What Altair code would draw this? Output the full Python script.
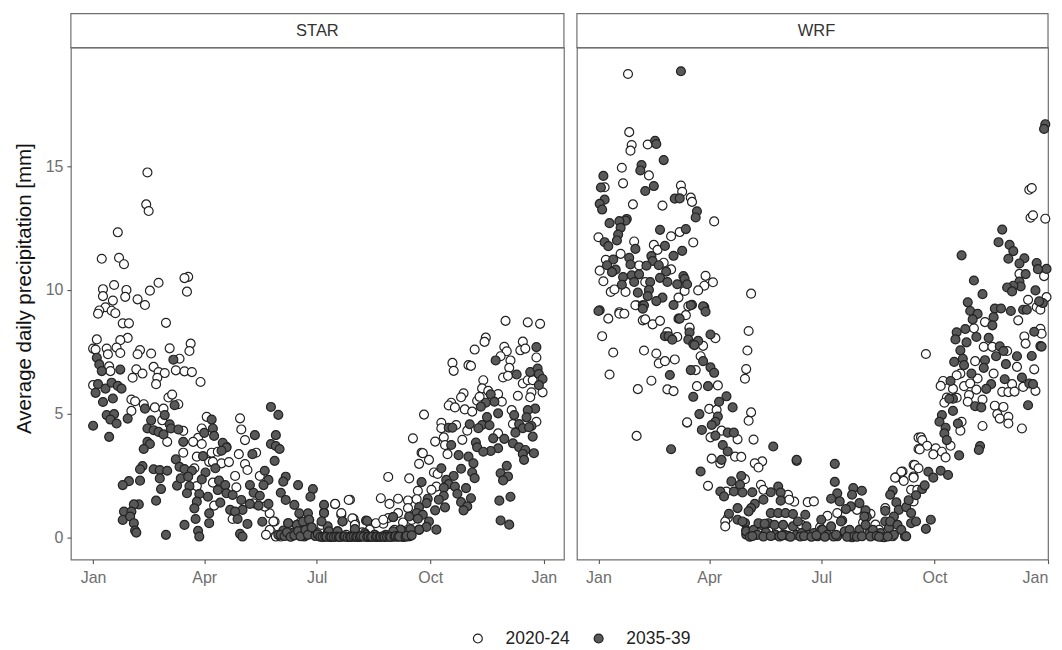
import altair as alt
import pandas as pd

period_labels = ["2020-24", "2035-39"]
panel_labels = ["STAR", "WRF"]
month_ticks = [0, 90, 181, 273, 365]
y_ticks = [0, 5, 10, 15]

star_2020 = [(44,14.75),(43,13.46),(45,13.19),(20,12.33),(7,11.26),(21,11.3),(25,11.04),(77,10.53),(74,10.48),(53,10.29),(17,10.2),(8,10.03),(27,10),(46,9.97),(76,9.93),(8,9.75),(26,9.72),(16,9.57),(36,9.62),(42,9.39),(10,9.3),(5,9.17),(4,9.04),(15,9.16),(18,9.06),(24,8.65),(29,8.65),(59,8.67),(3,8),(28,8.06),(22,7.97),(79,7.83),(0,7.63),(2,7.59),(11,7.63),(19,7.67),(62,7.64),(38,7.57),(78,7.53),(12,7.4),(22,7.45),(36,7.4),(47,7.43),(70,7.22),
(13,6.91),(14,6.72),(35,6.79),(49,6.89),(40,6.62),(32,6.45),(53,6.68),(58,6.64),(52,6.45),(51,6.19),(67,6.75),(74,6.71),(80,6.68),(87,6.28),(0,6.15),(31,5.57),(34,5.5),(41,5.38),(50,5.25),(31,5.11),(57,5.2),(61,5.65),(64,5.77),(69,5.38),(56,4.73),(92,4.87),(73,4.3),(60,3.86),(88,4.4),(119,4.81),(120,4.36),(123,3.93),(85,4.02),(81,3.86),(88,3.77),(96,3.42),(101,3.46),(108,3.66),(118,3.36),(132,3.42),(73,3.42),(84,3.26),(94,3.05),(104,2.99),(110,3.04),(97,3.05),(123,2.96),(125,2.72),(115,2.48),(135,2.48),(82,2.79),(97,2.21),(116,2.02),(84,2.07),(130,1.37),(98,1.28),(113,.74),(143,.97),(147,.64),(144,.23),(148,.03),(152,.03),(159,.1),(139,1.24),(146,.64),(143,.3),(140,.1),
(334,8.75),(352,8.69),(362,8.63),(318,8.07),(317,7.9),(309,7.59),(333,7.7),(335,7.52),(348,7.91),(346,7.56),(350,7.63),(330,7.32),(359,7.27),(338,7.15),(291,7.05),(292,6.73),(304,6.96),(306,6.93),(337,6.85),(332,6.46),(336,6.53),(348,6.22),(352,6.35),(356,6.35),(316,6.35),(315,6.02),(320,5.92),(328,5.79),(355,5.86),(354,5.66),(364,5.86),(344,5.72),(300,5.82),(298,5.66),(290,5.44),(288,5.33),(293,5.25),(301,5.17),(307,5.08),(311,5.52),(313,5.68),(331,5.48),(339,5.14),(268,4.96),(282,4.63),(282,4.41),(294,4.54),(303,4.31),(359,4.67),(340,4.58),(328,4.2),(259,4),(284,4.04),(299,3.94),(277,3.87),(285,3.73),(287,3.36),(266,3.42),(267,3.4),(272,3.13),(264,2.97),(276,2.62),(279,2.56),(239,2.44),(256,2.38),(278,2.05),(263,1.88),(274,1.92),(233,1.58),(240,1.35),(247,1.56),(255,1.49),(262,1.54),(196,1.34),(208,1.52),(201,.91),(211,.75),(212,.58),(247,.98),(239,.78),(235,.55),(255,1.18),(224,.31),(196,1.35),(207,1.51),(210,.77),(201,.98),(212,.5),(229,.57),(235,.71),(160,.4),(168,.6),(175,.3),(185,.5),(190,.2),(205,.1),(218,.2),(228,.1),(244,.3),(251,.6),(258,.7)]

star_2035 = [(3,7.26),(5,6.99),(7,6.72),(22,6.78),(65,7.18),(4,6.19),(2,5.84),(10,6.01),(15,6.25),(20,6.12),(23,6.01),(8,5.47),(16,5.61),(11,4.94),(17,4.98),(14,4.76),(19,4.6),(0,4.51),(13,4.06),(28,4.8),(42,5.2),(58,4.94),(66,5.34),(47,4.73),(44,4.4),(49,4.33),(53,4.26),(57,4.16),(62,4.57),(63,4.4),(69,4.36),(96,4.76),(97,4.4),(90,4.22),(98,4.1),(73,3.86),(44,3.86),(46,3.77),(41,3.57),(105,3.82),(108,3.63),(104,3.5),(131,4.13),(148,4.13),(144,5.27),(150,4.95),(144,3.77),(148,3.69),(151,3.57),(129,3.36),(89,3.28),(147,3.09),(67,3.15),
(40,2.88),(38,2.75),(49,2.75),(54,2.72),(60,2.69),(70,2.85),(74,2.76),(80,2.69),(91,2.62),(99,2.79),(139,2.69),(29,2.27),(24,2.11),(38,2.29),(54,2.38),(55,1.95),(68,2.09),(71,2.38),(77,2.45),(78,2.07),(88,2.34),(102,2.29),(107,2.11),(76,1.78),(86,1.75),(93,1.64),(84,1.44),(101,1.91),(108,1.78),(103,1.4),(113,1.71),(120,1.51),(127,2.11),(130,1.8),(135,1.68),(142,2.32),(138,2.11),(156,2.45),(154,2.25),(152,1.8),(166,2.11),(178,1.95),(176,1.64),(156,1.51),(163,1.31),(142,1.35),(127,1.35),(134,1.28),(121,1.11),(111,1.11),(115,1.04),(51,1.48),(37,1.33),(33,1.33),(25,1.04),(31,1.04),(24,.7),(30,.84),(33,.57),(34,.27),(35,.19),(59,.1),(74,.5),(83,.74),(82,1.17),(94,.97),(94,.57),(85,.26),(86,.03),(119,.14),(121,.03),(117,.74),(125,.54),(137,.63),(167,.97),(174,.97),(175,.7),(158,.57),(165,.5),(170,.63),(154,.27),(162,.19),(171,.03),(179,.23),(187,1),(175,.71),(202,.64),(221,.68),(243,.81),(212,.3),(198,.24),(190,.44),(171,.1),(162,.17),(158,.57),(150,.1),(220,.17),(228,.1),(237,.1),(251,.24),(256,.04),(264,.3),
(326,7.15),(359,7.69),(343,6.58),(354,6.68),(360,6.82),(361,6.6),(364,6.4),(361,6.15),(322,5.78),(325,5.48),(318,5.44),(314,5.28),(328,5.01),(358,5.2),(352,5.14),(341,4.94),(351,4.85),(319,4.86),(345,4.58),(355,4.5),(315,4.54),(321,4.53),(305,4.57),(288,4.43),(291,4.43),(312,4.41),(348,4.41),(353,4.45),(342,4.23),(356,4.07),(324,4),(333,3.98),(340,3.8),(310,3.83),(290,3.73),(311,3.64),(345,3.64),(328,3.6),(322,3.49),(316,3.46),(350,3.53),(357,3.4),(348,3.37),(296,3.32),(304,3.26),(349,3.13),(308,2.99),(282,2.79),(298,2.77),(307,2.62),(335,2.89),(330,2.59),(336,2.46),(332,2.3),(309,2.39),(292,2.48),(286,2.32),(266,2.23),(288,2.15),(293,2.05),(302,1.99),(284,2),(295,1.76),(338,1.64),(284,1.68),(306,1.58),(329,1.48),(298,1.42),(271,1.56),(280,1.52),(303,1.25),(285,1.21),(270,1.38),(300,1.09),(277,1.09),(264,1.22),(262,.98),(267,.91),(256,.84),(263,.75),(330,.68),(337,.51),(272,.64),(243,.82),(222,.66),(202,.64),(278,.31),(270,.42),(264,.31),(257,.33),(249,.31),(243,.24),(256,.04),(251,.01),(187,1.31),(187,.98),(185,.64),(191,.24),(198,.24),(212,.33),(221,.1),
(152,.1),(155,.05),(157,.2),(160,.02),(163,.08),(166,.25),(168,.04),(172,.3),(174,.1),(177,.4),(180,.05),(182,.12),(184,.02),(186,.01),(188,.03),(189,.02),(192,.01),(193,.02),(195,.01),(197,.03),(199,.02),(200,.01),(203,.02),(204,.04),(206,.01),(208,.02),(209,.01),(211,.03),(213,.01),(214,.02),(216,.01),(217,.04),(219,.02),(222,.01),(223,.03),(225,.01),(226,.02),(229,.01),(230,.03),(232,.01),(233,.02),(235,.04),(236,.01),(238,.02),(240,.03),(241,.01),(244,.02),(245,.05),(247,.02),(248,.03),(253,.02),(254,.06),(258,.08)]

wrf_2020 = [(24,18.73),(25,16.38),(27,15.86),(26,15.63),(40,15.88),(19,14.94),(20,14.31),(41,14.63),(5,14.15),(28,13.46),(52,13.41),(67,14.22),(68,13.97),(75,13.73),(76,13.56),(94,12.77),(0,12.13),(29,11.96),(45,11.82),(59,12.17),(66,12.34),(77,11.92),(48,11.62),(18,11.46),(6,11.22),(33,10.99),(53,11.1),(59,10.83),(1,10.78),(4,10.35),(10,9.92),(13,10.02),(22,9.92),(38,10.32),(87,10.57),(86,10.17),(93,10.31),(81,9.98),(70,9.96),(65,9.69),(124,9.85),(73,9.34),(17,9.1),(31,9.38),
(8,8.84),(17,9.04),(21,9.04),(3,8.13),(12,7.47),(37,7.55),(47,7.43),(9,6.58),(49,7.03),(54,7.12),(62,7.19),(43,6.33),(32,5.99),(56,5.98),(61,5.91),(72,4.63),(31,4.1),(36,8.77),(38,8.81),(44,8.61),(50,8.75),(30,9.38),(71,8.98),(56,8.3),(64,8.1),(74,8.44),
(122,8.34),(121,7.55),(120,6.8),(119,6.41),(95,8.05),(85,7.74),(74,8.48),(83,7.32),(79,6.76),(80,6.11),(97,6.14),(124,5.05),(122,4.71),(90,5.19),(96,5.15),(72,4.65),(100,4.31),(91,4.04),(113,3.96),(126,3.95),(92,3.18),(111,3.26),(116,3.25),(99,2.99),(133,3.07),(127,2.99),(130,2.82),(161,3.09),(89,2.08),(104,1.85),(119,2.35),(132,2.12),(134,1.92),(154,1.72),(159,1.44),(155,1.52),(170,1.42),(175,1.45),(105,.78),(103,.64),(103,.44),(194,.98),(186,.87),(210,1.11),(221,.95),(233,1.18),(225,.51),(239,.04),(247,2.66),(242,2.42),(248,2.28),(256,2.93),(256,2.46),(254,1.92),(259,1.92),(260,4.03),(260,3.57),(256,1.45),
(350,14.05),(352,14.12),(351,12.92),(353,13.02),(363,12.88),(362,10.56),(342,10.65),(364,9.71),(349,9.6),(356,9.31),(359,9.2),(341,8.77),(314,8.7),(305,8.45),(359,8.43),(360,8.23),(346,8.12),(347,7.83),(266,7.41),(313,7.7),(320,7.7),(332,7.53),(306,7.12),(340,6.89),(354,6.79),(321,6.62),(294,6.62),(308,6.42),(280,6.32),(278,6.12),(291,6.55),(297,6.11),(302,6.22),(307,5.97),(288,6),(336,6.19),(345,6.08),(355,5.92),(328,5.88),(333,5.87),(338,5.89),(283,5.65),(291,5.64),(301,5.75),(300,5.48),(312,5.57),(281,5.44),(322,5.32),(329,5.27),(324,4.98),(326,4.8),(333,4.87),(333,4.6),(295,4.67),(294,4.31),(312,4.5),(344,4.4),(262,4.04),(263,3.93),(267,3.7),(261,3.55),(274,3.6),(272,3.35),(279,3.46),(282,3.23),(286,3.7),(257,2.92),(260,2.79),(246,2.65),(241,2.41),(256,2.41),(145,.3),(165,.5),(180,.4),(200,.2),(215,.6),(228,.3)]

wrf_2035 = [(67,18.84),(46,16.03),(47,15.9),(53,15.25),(35,15.05),(34,14.83),(4,14.61),(2,14.14),(45,14.2),(38,14),(62,13.69),(66,13.7),(5,13.65),(1,13.48),(3,13.25),(80,13.18),(79,12.93),(23,12.87),(22,12.8),(17,12.78),(9,12.7),(18,12.51),(50,12.43),(71,12.46),(16,12.24),(15,12),(5,11.93),(8,11.77),(54,11.78),(30,11.66),(68,11.58),(61,11.38),(43,11.37),(12,11.23),(25,11.3),(44,11.17),(7,11),(26,11.03),(39,10.98),(49,11),(14,10.82),(11,10.72),(55,10.74),(20,10.52),(27,10.59),(33,10.63),(69,10.56),(70,10.45),(29,10.32),(50,10.49),(56,10.32),(42,10.32),(64,10.23),(72,10.23),(19,10.21),(41,10),(32,9.89),(52,9.69),(47,9.55),(40,9.75),(36,9.38),(61,9.39),(76,9.4),(86,9.31),(1,9.18),
(0,9.15),(37,9.38),(36,9.24),(65,8.84),(75,9.38),(54,8.13),(57,8.13),(60,7.99),(74,8.28),(73,7.99),(77,7.81),(58,6.56),(75,6.76),(77,5.68),(59,3.56),
(85,9.34),(87,9.12),(66,8.84),(91,8.2),(81,7.94),(78,7.77),(85,7.12),(91,6.87),(94,6.65),(89,6.11),(104,5.7),(98,5.48),(109,5.25),(82,4.98),(97,4.88),(95,4.67),(92,4.54),(84,4.34),(105,4.23),(110,4.23),(95,4.11),(101,3.73),(142,3.67),(105,3.47),(100,3.13),(161,3.13),(192,2.97),(83,2.66),(192,2.24),(116,2.48),(108,2.26),(115,2.12),(110,1.85),(117,1.81),(99,1.85),(102,1.65),(125,1.82),(140,1.82),(146,2.05),(148,1.81),(207,1.99),(214,1.88),(206,1.72),(194,1.78),(189,1.56),(196,1.45),(148,1.48),(134,1.52),(127,1.35),(124,1.18),(122,1.05),(212,1.38),(205,1.25),(201,1.14),(217,1.09),(218,.82),(113,1.18),(106,.95),(113,.71),(119,.58),(140,.98),(146,.98),(152,.98),(158,.94),(168,.91),(181,.71),(198,.68),(233,1.07),(239,1.89),(237,1.72),(242,1.41),(244,1.11),(250,1.22),(254,.98),(240,.84),(233,.64),(236,.38),(231,.01),(249,.04),(120,.28),(120,.11),(128,.11),
(117,.64),(120,.24),(126,.3),(129,.1),(132,.5),(136,.2),(138,.57),(143,.5),(144,.1),(150,.5),(151,.1),(154,.06),(158,.44),(161,.1),(162,.64),(165,.17),(169,.44),(171,.1),(175,.17),(178,.04),(181,.3),(182,.3),(186,.1),(189,.44),(194,.04),(197,.64),(200,.24),(204,.3),(206,0),(212,.3),(216,.84),(217,.5),(220,.17),(223,.3),(229,.17),(232,0),(237,.64),(240,.1),(243,.5),(246,.3),(250,.04),(254,.57),(258,.64),(266,.34),(270,.71),(130,.57),(135,.55),(123,.02),(125,.05),(134,.03),(140,.05),(147,.03),(149,.07),(156,.02),(164,.03),(167,.05),(173,.02),(177,.08),(184,.02),(191,.03),(193,.1),(202,.02),(208,.05),(210,.02),(214,.04),(221,.03),(226,.06),(228,.02),(235,.03),
(363,16.7),(362,16.51),(328,12.44),(325,11.93),(334,11.82),(337,11.57),(333,11.26),(295,11.4),(346,11.28),(342,11.07),(356,11.09),(364,10.85),(357,10.84),(347,10.64),(342,10.34),(305,10.38),(343,10.14),(337,10.17),(332,10.1),(336,9.94),(355,9.98),(312,9.83),(361,9.47),(300,9.5),(358,9.54),(322,9.25),(327,9.25),(335,9.15),(302,9.15),(308,9.03),(321,8.9),(304,8.81),(320,8.57),(345,9.2),(348,9.2),(298,8.42),(291,8.29),(290,8),(307,8.1),(317,8.06),(354,8.31),(299,7.88),(326,7.72),(359,7.73),(360,7.71),(294,7.56),(329,7.53),(323,7.32),(352,7.33),(340,7.32),(296,7.22),(289,7.09),(314,7.16),(331,7),(297,6.96),(313,6.85),(303,6.62),(344,6.46),(330,6.39),(286,6.32),(350,6.22),(353,6.19),(319,6.19),(315,6),(288,5.6),(285,5.6),(306,5.3),(311,5.25),(349,5.34),(288,5.11),(279,4.94),(277,4.67),(292,4.6),(282,4.43),(281,4.2),(283,3.93),(293,3.31),(310,3.69),(309,3.53),(268,2.65),(278,2.69),(284,2.52),(272,2.41),(263,1.95),(258,1.7),(252,1.5),(265,2.1)]

series = {"STAR": (star_2020, star_2035), "WRF": (wrf_2020, wrf_2035)}


def frame(panel):
    rows = []
    for label, pts in zip(period_labels, series[panel]):
        rows += [{"day": d, "mm": v, "period": label} for d, v in pts]
    return pd.DataFrame(rows)


FONT = "Liberation Sans"
MONTHS = ("datum.value==90?'Apr':datum.value==181?'Jul':datum.value==273?'Oct':'Jan'")
BORDER = "#707070"


def panel(name, width, domain, left):
    fill = alt.Fill(
        "period:N",
        scale=alt.Scale(domain=period_labels, range=["#ffffff", "#595959"]),
        legend=alt.Legend(orient="none", legendX=399, legendY=583, direction="horizontal",
                          title=None, labelFontSize=17.5, labelColor="#222222", labelFont=FONT,
                          symbolSize=80, symbolStrokeColor="#222222", symbolStrokeWidth=1.2,
                          columnPadding=20, labelOffset=19, symbolType="circle", labelLimit=100)
        if left else None,
    )
    y_axis = alt.Axis(
        values=y_ticks, grid=False, domain=False, tickColor="#555555", tickSize=4, tickWidth=1.1,
        labelColor="#6e6e6e", labelFontSize=16, labelFont=FONT, labelPadding=4,
        title="Average daily precipitation [mm]", titleFontSize=20.5, titleFont=FONT,
        titleFontWeight="normal", titleColor="#111111", titlePadding=11, titleY=241,
    ) if left else None
    plot = alt.Chart(frame(name)).mark_point(
        filled=True, size=80, stroke="#222222", strokeWidth=1.2, opacity=1, fillOpacity=1
    ).encode(
        x=alt.X("day:Q", scale=alt.Scale(domain=domain, nice=False, zero=False),
                axis=alt.Axis(values=month_ticks, labelExpr=MONTHS, grid=False, domain=False,
                              tickColor="#555555", tickSize=4, tickWidth=1.1, labelColor="#6e6e6e",
                              labelFontSize=16, labelFont=FONT, labelPadding=6, title=None,
                              labelOverlap=False,
                              labelFlush=False if left else 5)),
        y=alt.Y("mm:Q", scale=alt.Scale(domain=[-0.9, 19.8], nice=False, zero=False), axis=y_axis),
        fill=fill,
    )
    box = alt.Chart(pd.DataFrame({"label": [name]})).mark_rect(
        fill="white", stroke=BORDER, strokeWidth=1.2, clip=False
    ).encode(x=alt.value(0), x2=alt.value(width), y=alt.value(-34), y2=alt.value(0))
    label = alt.Chart(pd.DataFrame({"label": [name]})).mark_text(
        font=FONT, fontSize=16.5, color="#333333", clip=False
    ).encode(text="label:N", x=alt.value(247 if left else 240), y=alt.value(-17))
    return alt.layer(box, plot, label).properties(width=width, height=513)


chart = alt.hconcat(
    panel("STAR", 494, [-18, 381.3], True),
    panel("WRF", 472, [-17.5, 365.2], False),
    spacing=9,
).resolve_scale(x="independent", y="independent").properties(
    padding={"left": 5, "top": 3, "right": 0, "bottom": 0}, background="white"
).configure_view(stroke=BORDER, strokeWidth=1.2)

chart.save("out.html", embed_options={"renderer": "svg", "actions": False})
